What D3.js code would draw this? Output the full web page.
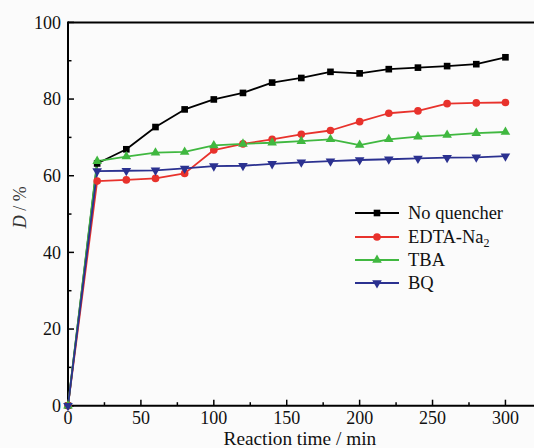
<!DOCTYPE html>
<html>
<head>
<meta charset="utf-8">
<script src="https://cdn.jsdelivr.net/npm/d3@7"></script>
<style>
  html, body { margin: 0; padding: 0; background: #fbfbfb; }
  svg { display: block; }
</style>
</head>
<body>
<svg id="chart" width="534" height="448"></svg>
<script>
// Reaction time (min)
const times = [0, 20, 40, 60, 80, 100, 120, 140, 160, 180, 200, 220, 240, 260, 280, 300];

// Degradation D (%) for each quencher condition
const noQuencher = [0, 63.2, 66.9, 72.7, 77.3, 79.9, 81.6, 84.3, 85.5, 87.1, 86.7, 87.8, 88.2, 88.6, 89.1, 90.9];
const edtaNa2    = [0, 58.6, 58.9, 59.3, 60.6, 66.7, 68.3, 69.5, 70.8, 71.8, 74.1, 76.3, 76.9, 78.8, 79.0, 79.1];
const tba        = [0, 63.8, 65.0, 66.0, 66.2, 67.9, 68.3, 68.6, 69.0, 69.5, 68.0, 69.5, 70.2, 70.6, 71.1, 71.4];
const bq         = [0, 61.2, 61.3, 61.4, 61.9, 62.5, 62.6, 63.1, 63.5, 63.8, 64.1, 64.3, 64.5, 64.7, 64.8, 65.1];

const seriesNames = ["No quencher", "EDTA-Na", "TBA", "BQ"];
const seriesSubs  = ["", "2", "", ""];
const seriesData  = [noQuencher, edtaNa2, tba, bq];

const xMajorTicks = [0, 50, 100, 150, 200, 250, 300];
const xMinorTicks = [25, 75, 125, 175, 225, 275];
const yMajorTicks = [0, 20, 40, 60, 80, 100];
const yMinorTicks = [10, 30, 50, 70, 90];

const colors  = ["#000000", "#e8322c", "#40b840", "#2b3190"];
const symbols = [d3.symbolSquare, d3.symbolCircle, d3.symbolTriangle, d3.symbolTriangle];
const symSize = [44, 46, 40, 40];
const symRot  = [0, 0, 0, 180];

const FONT = "Liberation Serif";

const svg = d3.select("#chart");

const plotLeft = 68, plotRight = 534.6, plotTop = 22.4, plotBottom = 405.7;
const x = d3.scaleLinear().domain([0, 320]).range([plotLeft, plotRight]);
const y = d3.scaleLinear().domain([0, 100]).range([plotBottom, plotTop]);

// Frame: top edge
svg.append("line")
  .attr("x1", plotLeft).attr("x2", 534).attr("y1", plotTop).attr("y2", plotTop)
  .attr("stroke", "#000").attr("stroke-width", 2);

// X axis with inward ticks
const xAxis = svg.append("g").attr("transform", `translate(0,${plotBottom})`);
xAxis.append("line").attr("x1", plotLeft - 1).attr("x2", 534).attr("stroke", "#000").attr("stroke-width", 2);
xAxis.selectAll("line.maj").data(xMajorTicks).join("line").attr("class", "maj")
  .attr("x1", d => x(d)).attr("x2", d => x(d)).attr("y1", 0).attr("y2", -6)
  .attr("stroke", "#000").attr("stroke-width", 1.5);
xAxis.selectAll("line.min").data(xMinorTicks).join("line").attr("class", "min")
  .attr("x1", d => x(d)).attr("x2", d => x(d)).attr("y1", 0).attr("y2", -3.5)
  .attr("stroke", "#000").attr("stroke-width", 1.5);
xAxis.selectAll("text").data(xMajorTicks).join("text")
  .attr("x", d => x(d)).attr("y", 18.3)
  .attr("text-anchor", "middle").attr("font-family", FONT).attr("font-size", 18).attr("fill", "#111")
  .text(d => d);

// Y axis with inward ticks
const yAxis = svg.append("g").attr("transform", `translate(${plotLeft},0)`);
yAxis.append("line").attr("y1", plotTop - 1).attr("y2", plotBottom + 1).attr("stroke", "#000").attr("stroke-width", 2);
yAxis.selectAll("line.maj").data(yMajorTicks).join("line").attr("class", "maj")
  .attr("x1", 0).attr("x2", 6).attr("y1", d => y(d)).attr("y2", d => y(d))
  .attr("stroke", "#000").attr("stroke-width", 1.5);
yAxis.selectAll("line.min").data(yMinorTicks).join("line").attr("class", "min")
  .attr("x1", 0).attr("x2", 3.5).attr("y1", d => y(d)).attr("y2", d => y(d))
  .attr("stroke", "#000").attr("stroke-width", 1.5);
yAxis.selectAll("text").data(yMajorTicks).join("text")
  .attr("x", -7).attr("y", d => y(d)).attr("dy", "0.34em")
  .attr("text-anchor", "end").attr("font-family", FONT).attr("font-size", 18).attr("fill", "#111")
  .text(d => d);

// Axis titles
svg.append("text")
  .attr("x", x(159)).attr("y", 444.5)
  .attr("text-anchor", "middle").attr("font-family", FONT).attr("font-size", 19.3).attr("fill", "#111")
  .text("Reaction time / min");

const yTitle = svg.append("text")
  .attr("transform", `translate(26,${y(51.8)}) rotate(-90)`)
  .attr("text-anchor", "middle").attr("font-family", FONT).attr("font-size", 18).attr("fill", "#333");
yTitle.append("tspan").attr("font-style", "italic").text("D");
yTitle.append("tspan").text(" / %");

// Series lines and markers
const line = d3.line().x((d, i) => x(times[i])).y(d => y(d));

seriesData.forEach((vals, k) => {
  svg.append("path")
    .datum(vals)
    .attr("d", line)
    .attr("fill", "none")
    .attr("stroke", colors[k])
    .attr("stroke-width", 1.8)
    .attr("stroke-linejoin", "round");
});

seriesData.forEach((vals, k) => {
  const sym = d3.symbol().type(symbols[k]).size(symSize[k]);
  svg.append("g").selectAll("path")
    .data(vals)
    .join("path")
    .attr("d", sym)
    .attr("transform", (d, i) => `translate(${x(times[i])},${y(d)}) rotate(${symRot[k]})`)
    .attr("fill", colors[k]);
});

// Legend
const legendRows = [213, 237, 260, 283];
const legend = svg.append("g");
seriesNames.forEach((name, k) => {
  const cy = legendRows[k];
  legend.append("line")
    .attr("x1", 355).attr("x2", 399).attr("y1", cy).attr("y2", cy)
    .attr("stroke", colors[k]).attr("stroke-width", 1.8);
  legend.append("path")
    .attr("d", d3.symbol().type(symbols[k]).size(symSize[k])())
    .attr("transform", `translate(377,${cy}) rotate(${symRot[k]})`)
    .attr("fill", colors[k]);
  const t = legend.append("text")
    .attr("x", 408).attr("y", cy + 6)
    .attr("font-family", FONT).attr("font-size", 18.5).attr("fill", "#111");
  t.append("tspan").text(name);
  if (seriesSubs[k]) {
    t.append("tspan").attr("font-size", 12).attr("dy", 4).text(seriesSubs[k]);
  }
});
</script>
</body>
</html>
